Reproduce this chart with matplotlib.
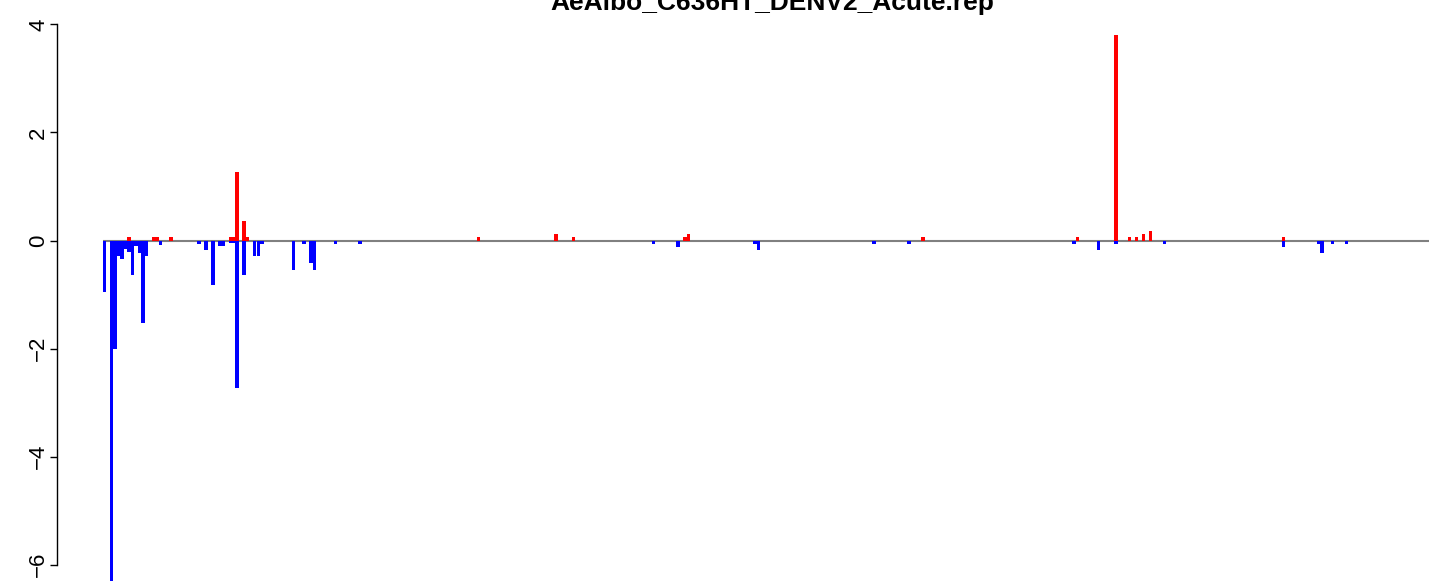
import matplotlib
matplotlib.use('Agg')
import numpy as np
from matplotlib import pyplot as plt

title = "AeAlbo_C636HT_DENV2_Acute.rep"

# bin index along the genome and value (plus strand = red, minus strand = blue)
plus_pos = [7, 14, 15, 19, 36, 37, 38, 40, 41, 107, 129, 134, 166, 167,
            234, 278, 289, 293, 295, 297, 299, 337]
plus_val = [0.06, 0.06, 0.06, 0.06, 0.06, 0.06, 1.26, 0.37, 0.06, 0.06, 0.12, 0.06, 0.06, 0.12,
            0.06, 0.06, 3.8, 0.06, 0.06, 0.12, 0.18, 0.06]

minus_pos = [0, 2, 3, 4, 5, 6, 7, 8, 9, 10, 11, 12, 16,
             27, 29, 31, 33, 34, 36, 37, 38, 40, 43, 44, 45,
             54, 57, 59, 60, 66, 73,
             157, 164, 186, 187, 220, 230, 277, 284, 289, 303, 337, 347, 348, 351, 355]
minus_val = [-0.95, -6.35, -2.0, -0.29, -0.35, -0.15, -0.22, -0.64, -0.1, -0.23, -1.53, -0.29, -0.08,
             -0.06, -0.17, -0.83, -0.1, -0.1, -0.05, -0.05, -2.72, -0.64, -0.29, -0.29, -0.06,
             -0.54, -0.06, -0.41, -0.54, -0.06, -0.06,
             -0.06, -0.12, -0.06, -0.17, -0.06, -0.06, -0.06, -0.17, -0.06, -0.06, -0.12, -0.06, -0.24, -0.06, -0.06]

yticks = [-6, -4, -2, 0, 2, 4]

W, H = 1429, 581
fig = plt.figure(figsize=(W / 100, H / 100), dpi=100)

# axes spans from the y axis line to the right edge, full height (plot is cropped)
x0 = 57
ax = fig.add_axes([x0 / W, 0, 1 - x0 / W, 1])
ax.set_xlim((x0 - 102.5) / 3.5, (W - 102.5) / 3.5)
ax.set_ylim(-6.30, 4.45)

ax.hlines(0, 0, (W - 102.5) / 3.5, color='#808080', lw=1.5, zorder=1)
ax.bar(plus_pos, plus_val, width=1.0, align='edge', color='red', lw=0, zorder=2)
ax.bar(minus_pos, minus_val, width=1.0, align='edge', color='blue', lw=0, zorder=2)

for s in ['top', 'right', 'bottom']:
    ax.spines[s].set_visible(False)
ax.spines['left'].set_bounds(-6, 4)
ax.spines['left'].set_linewidth(1.0)
ax.set_xticks([])
ax.set_yticks(yticks)
ax.set_yticklabels(['\u2212' + str(-t) if t < 0 else str(t) for t in yticks],
                   rotation=90, va='center', family='Liberation Sans', fontsize=16)
ax.tick_params(axis='y', length=5, width=1.0, pad=0.5)

# title sits partly above the top edge, as in the cropped original
fig.text(772 / W, 1 - 10 / H, title, ha='center', va='baseline',
         family='Liberation Sans', fontweight='bold', fontsize=19)

fig.savefig('out.png', dpi=100)
